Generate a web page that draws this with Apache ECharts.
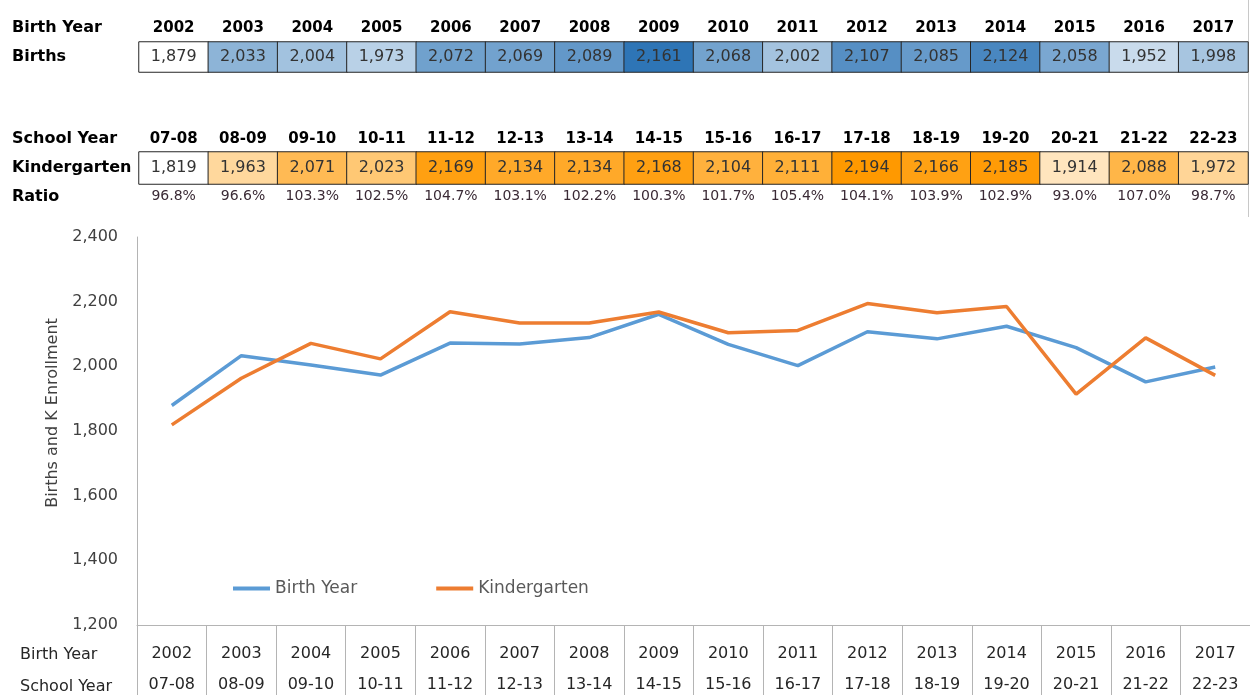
<!DOCTYPE html>
<html>
<head>
<meta charset="utf-8">
<title>Births and K Enrollment</title>
<script src="https://cdn.jsdelivr.net/npm/echarts@6/dist/echarts.min.js"></script>
<style>
  html, body { margin: 0; padding: 0; background: #fff; }
  #chart { width: 1250px; height: 700px; }
</style>
</head>
<body>
<div id="chart"></div>
<script>
// values
var birthYears = ['2002', '2003', '2004', '2005', '2006', '2007', '2008', '2009',
                  '2010', '2011', '2012', '2013', '2014', '2015', '2016', '2017'];
var schoolYears = ['07-08', '08-09', '09-10', '10-11', '11-12', '12-13', '13-14', '14-15',
                   '15-16', '16-17', '17-18', '18-19', '19-20', '20-21', '21-22', '22-23'];
var births = [1879, 2033, 2004, 1973, 2072, 2069, 2089, 2161, 2068, 2002, 2107, 2085, 2124, 2058, 1952, 1998];
var kinder = [1819, 1963, 2071, 2023, 2169, 2134, 2134, 2168, 2104, 2111, 2194, 2166, 2185, 1914, 2088, 1972];
var ratio = ['96.8%', '96.6%', '103.3%', '102.5%', '104.7%', '103.1%', '102.2%', '100.3%',
             '101.7%', '105.4%', '104.1%', '103.9%', '102.9%', '93.0%', '107.0%', '98.7%'];
var yTicks = [1200, 2400, 200];

var FONT = 'DejaVu Sans';
var fmt = function (v) { return Number(v).toLocaleString('en-US'); };

function cells(arr) {
    return arr.map(function (v, i) { return [i, 0, v]; });
}

// row header text, anchored on its vertical middle
function rowHead(text, x, y, bold, color) {
    return {
        type: 'text', x: x, y: y,
        style: {
            text: text, fill: color || '#000',
            font: (bold ? 'bold ' : '') + '16px "' + FONT + '"',
            verticalAlign: 'middle'
        }
    };
}

var chart = echarts.init(document.getElementById('chart'));
chart.setOption({
    animation: false,
    textStyle: { fontFamily: FONT },
    grid: [
        { left: 137, right: 0, top: 237, bottom: 69 },
        { left: 139, right: 2, top: 42, height: 30 },
        { left: 139, right: 2, top: 152, height: 32 }
    ],
    legend: {
        left: 228, top: 575,
        icon: 'rect', itemWidth: 37, itemHeight: 4, itemGap: 79,
        textStyle: { fontSize: 17, color: '#595959' },
        data: ['Birth Year', 'Kindergarten']
    },
    visualMap: [
        { show: false, seriesIndex: 2, min: Math.min.apply(null, births), max: Math.max.apply(null, births),
          inRange: { color: ['#ffffff', '#2e75b6'] } },
        { show: false, seriesIndex: 3, min: Math.min.apply(null, kinder), max: Math.max.apply(null, kinder),
          inRange: { color: ['#ffffff', '#ff9900'] } }
    ],
    xAxis: [
        {
            gridIndex: 0, type: 'category', data: birthYears,
            axisLine: { lineStyle: { color: '#b4b4b4', width: 1 } },
            axisTick: { show: true, length: 70, lineStyle: { color: '#b4b4b4' } },
            axisLabel: {
                interval: 0, margin: 13, lineHeight: 31, fontSize: 16, color: '#262626',
                formatter: function (v, i) { return v + '\n' + schoolYears[i]; }
            }
        },
        {
            gridIndex: 1, type: 'category', data: birthYears, position: 'top',
            axisLine: { show: false }, axisTick: { show: false },
            axisLabel: { interval: 0, margin: 6, fontSize: 15, fontWeight: 'bold', color: '#000' }
        },
        {
            gridIndex: 2, type: 'category', data: schoolYears, position: 'top',
            axisLine: { show: false }, axisTick: { show: false },
            axisLabel: { interval: 0, margin: 5, fontSize: 15, fontWeight: 'bold', color: '#000' }
        },
        {
            gridIndex: 2, type: 'category', data: ratio, position: 'bottom',
            axisLine: { show: false }, axisTick: { show: false },
            axisLabel: { interval: 0, margin: 5, fontSize: 14, color: '#3a2a35' }
        }
    ],
    yAxis: [
        {
            gridIndex: 0, type: 'value', min: yTicks[0], max: yTicks[1], interval: yTicks[2],
            name: 'Births and K Enrollment', nameLocation: 'middle', nameGap: 74,
            nameTextStyle: { fontSize: 16, color: '#404040', padding: [0, 0, 0, 36] },
            axisLine: { show: true, lineStyle: { color: '#b4b4b4' } },
            axisTick: { show: false },
            splitLine: { show: false },
            axisLabel: { margin: 19, fontSize: 16, color: '#404040', formatter: fmt }
        },
        { gridIndex: 1, type: 'category', data: ['Births'], show: false },
        { gridIndex: 2, type: 'category', data: ['Kindergarten'], show: false }
    ],
    series: [
        {
            name: 'Birth Year', type: 'line', xAxisIndex: 0, yAxisIndex: 0,
            data: births, symbol: 'none',
            lineStyle: { width: 3.5, color: '#5b9bd5' }, itemStyle: { color: '#5b9bd5' }
        },
        {
            name: 'Kindergarten', type: 'line', xAxisIndex: 0, yAxisIndex: 0,
            data: kinder, symbol: 'none',
            lineStyle: { width: 3.5, color: '#ed7d31' }, itemStyle: { color: '#ed7d31' }
        },
        {
            name: 'Births', type: 'heatmap', xAxisIndex: 1, yAxisIndex: 1,
            data: cells(births),
            itemStyle: { borderColor: '#262626', borderWidth: 1 },
            label: { show: true, fontSize: 16, color: '#333', formatter: function (p) { return fmt(p.value[2]); } },
            emphasis: { disabled: true }
        },
        {
            name: 'K', type: 'heatmap', xAxisIndex: 2, yAxisIndex: 2,
            data: cells(kinder),
            itemStyle: { borderColor: '#262626', borderWidth: 1 },
            label: { show: true, fontSize: 16, color: '#333', formatter: function (p) { return fmt(p.value[2]); } },
            emphasis: { disabled: true }
        }
    ],
    graphic: [
        rowHead('Birth Year', 12, 28, true),
        rowHead('Births', 12, 57, true),
        rowHead('School Year', 12, 139, true),
        rowHead('Kindergarten', 12, 168, true),
        rowHead('Ratio', 12, 197, true),
        rowHead('Birth Year', 20, 655, false, '#262626'),
        rowHead('School Year', 20, 687, false, '#262626'),
        { type: 'line', shape: { x1: 1248.5, y1: 0, x2: 1248.5, y2: 217 }, style: { stroke: '#c8c8c8', lineWidth: 1 } }
    ]
});
</script>
</body>
</html>
